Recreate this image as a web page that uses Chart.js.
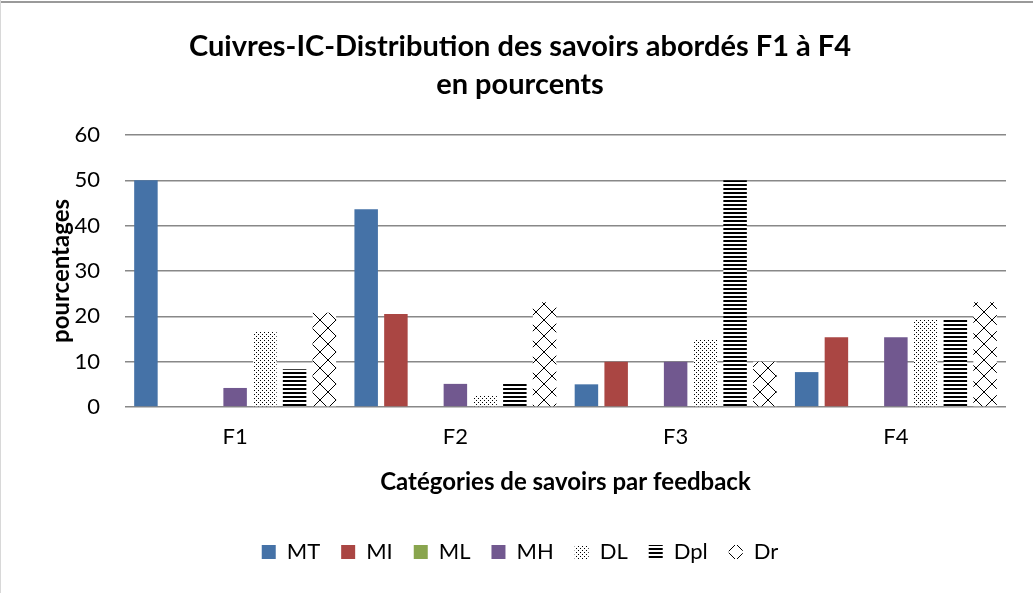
<!DOCTYPE html>
<html>
<head>
<meta charset="utf-8">
<script src="https://cdn.jsdelivr.net/npm/chart.js@4/dist/chart.umd.min.js"></script>
<style>
  html, body { margin: 0; padding: 0; background: #fff; }
  #wrap { position: relative; width: 1033px; height: 593px; }
  #frameTop { position: absolute; left: 0; top: 1px; width: 1033px; height: 2px; background: #9a9a9a; }
  #frameLeft { position: absolute; left: 0; top: 0; width: 1px; height: 593px; background: #d8d8d8; }
</style>
</head>
<body>
<div id="wrap">
  <canvas id="chart" width="1033" height="593"></canvas>
  <div id="frameTop"></div>
  <div id="frameLeft"></div>
</div>
<script>
const categories = ['F1', 'F2', 'F3', 'F4'];
const seriesNames = ['MT', 'MI', 'ML', 'MH', 'DL', 'Dpl', 'Dr'];
// percentages per feedback
const valMT  = [50.0, 43.6, 5.0, 7.7];
const valMI  = [0, 20.5, 10.0, 15.4];
const valML  = [0, 0, 0, 0];
const valMH  = [4.2, 5.1, 10.0, 15.4];
const valDL  = [16.7, 2.6, 15.0, 19.2];
const valDpl = [8.3, 5.1, 50.0, 19.2];
const valDr  = [20.8, 23.1, 10.0, 23.1];
const yTicks = [0, 10, 20, 30, 40, 50, 60];

const FONT = 'Lato, "Open Sans", sans-serif';

function makePattern(w, h, draw) {
    const c = document.createElement('canvas');
    c.width = w; c.height = h;
    const g = c.getContext('2d');
    g.fillStyle = '#fff';
    g.fillRect(0, 0, w, h);
    g.fillStyle = '#000';
    g.strokeStyle = '#000';
    draw(g);
    return g.createPattern(c, 'repeat');
}

const ctx = document.getElementById('chart').getContext('2d');

// small dots
const dotPattern = makePattern(4, 4, g => {
    g.fillRect(0, 0, 1, 1);
    g.fillRect(2, 2, 1, 1);
});
// horizontal lines
const linePattern = makePattern(4, 4, g => {
    g.fillRect(0, 0, 4, 2);
});
// diagonal cross / diamonds
const crossPattern = makePattern(16, 16, g => {
    g.lineWidth = 1;
    g.beginPath();
    g.moveTo(0, 0); g.lineTo(16, 16);
    g.moveTo(16, 0); g.lineTo(0, 16);
    g.stroke();
});

const allValues = [valMT, valMI, valML, valMH, valDL, valDpl, valDr];
const fills = ['#4572A7', '#AA4643', '#89A54E', '#71588F', dotPattern, linePattern, crossPattern];

new Chart(ctx, {
    type: 'bar',
    data: {
        labels: categories,
        datasets: seriesNames.map((name, i) => ({
            label: name,
            data: allValues[i],
            backgroundColor: fills[i],
            borderWidth: 0,
            categoryPercentage: 0.945,
            barPercentage: 0.79
        }))
    },
    options: {
        responsive: false,
        animation: false,
        events: [],
        layout: { padding: { left: 7, right: 0, top: 0, bottom: 20 } },
        plugins: {
            title: {
                display: true,
                text: ['Cuivres-IC-Distribution des savoirs abordés F1 à F4', 'en pourcents'],
                color: '#000',
                font: { family: FONT, size: 29, weight: 'bold', lineHeight: 1.31 },
                padding: { top: 28, bottom: 31 }
            },
            legend: {
                position: 'bottom',
                labels: {
                    color: '#000',
                    font: { family: FONT, size: 22 },
                    boxWidth: 14,
                    boxHeight: 14,
                    padding: 21
                }
            },
            tooltip: { enabled: false }
        },
        scales: {
            x: {
                grid: { display: false },
                border: { display: false },
                ticks: { color: '#000', font: { family: FONT, size: 22 }, padding: 9 },
                title: {
                    display: true,
                    text: 'Catégories de savoirs par feedback',
                    color: '#000',
                    font: { family: FONT, size: 24, weight: 'bold' },
                    padding: { top: 0, bottom: 23 }
                },
                afterFit: s => { s.height = 113; }
            },
            y: {
                min: 0,
                max: 60,
                afterBuildTicks: s => { s.ticks = yTicks.map(v => ({ value: v })); },
                grid: { color: '#888888', lineWidth: 1.6, drawTicks: false },
                border: { display: false },
                ticks: { color: '#000', font: { family: FONT, size: 22 }, padding: 25 },
                title: {
                    display: true,
                    text: 'pourcentages',
                    color: '#000',
                    font: { family: FONT, size: 24, weight: 'bold' },
                    padding: { top: 40, bottom: 0 }
                },
                afterFit: s => { s.width = 118; }
            },
            // empty right-hand spacer so the plot ends where the reference does
            yRight: {
                position: 'right',
                display: true,
                grid: { display: false, drawTicks: false },
                border: { display: false },
                ticks: { display: false },
                afterFit: s => { s.width = 27; }
            }
        }
    }
});
</script>
</body>
</html>
